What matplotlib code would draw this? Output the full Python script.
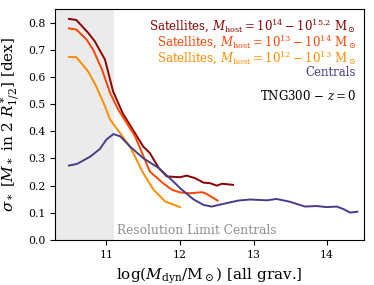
import matplotlib
matplotlib.use("Agg")
import matplotlib.pyplot as plt

plt.rcParams['font.family'] = 'DejaVu Serif'
plt.rcParams['mathtext.fontset'] = 'dejavuserif'

# Satellites, M_host = 10^14 - 10^15.2
x_sat14 = [10.49, 10.59, 10.75, 10.84, 10.98, 11.09, 11.22, 11.35, 11.50, 11.59, 11.71,
           11.82, 12.00, 12.09, 12.20, 12.32, 12.41, 12.50, 12.57, 12.72]
y_sat14 = [0.814, 0.810, 0.763, 0.732, 0.664, 0.547, 0.467, 0.410, 0.344, 0.320, 0.265,
           0.234, 0.231, 0.237, 0.228, 0.211, 0.209, 0.200, 0.207, 0.203]

# Satellites, M_host = 10^13 - 10^14
x_sat13 = [10.49, 10.59, 10.73, 10.82, 10.94, 11.05, 11.16, 11.39, 11.59, 11.77, 11.89,
           12.00, 12.14, 12.30, 12.36, 12.51]
y_sat13 = [0.779, 0.775, 0.738, 0.700, 0.627, 0.541, 0.480, 0.381, 0.252, 0.209, 0.185,
           0.175, 0.172, 0.176, 0.170, 0.145]

# Satellites, M_host = 10^12 - 10^13
x_sat12 = [10.49, 10.59, 10.75, 10.86, 10.98, 11.05, 11.32, 11.50, 11.64, 11.80, 12.00]
y_sat12 = [0.674, 0.673, 0.621, 0.566, 0.492, 0.443, 0.344, 0.246, 0.185, 0.141, 0.121]

# Centrals
x_cen = [10.49, 10.60, 10.78, 10.91, 11.00, 11.095, 11.19, 11.32, 11.50, 11.71, 11.91,
         12.00, 12.18, 12.32, 12.43, 12.59, 12.79, 12.95, 13.18, 13.31, 13.49, 13.70,
         13.86, 13.99, 14.13, 14.22, 14.31, 14.41]
y_cen = [0.274, 0.280, 0.307, 0.335, 0.370, 0.390, 0.381, 0.344, 0.301, 0.265, 0.215,
         0.191, 0.150, 0.129, 0.123, 0.133, 0.145, 0.149, 0.146, 0.151, 0.141, 0.123,
         0.125, 0.121, 0.123, 0.114, 0.101, 0.104]

res_limit = 11.1

fig = plt.figure(figsize=(3.74, 2.85), dpi=100)
ax = fig.add_axes([0.147, 0.158, 0.826, 0.810])

ax.axvspan(10.3, res_limit, color='#ebebeb', zorder=0, lw=0)
ax.text(res_limit + 0.05, 0.012, 'Resolution Limit Centrals', color='#909090',
        fontsize=8.8, ha='left', va='bottom')

lw = 1.4
ax.plot(x_sat14, y_sat14, color='#8b0000', lw=lw)
ax.plot(x_sat13, y_sat13, color='#ff4500', lw=lw)
ax.plot(x_sat12, y_sat12, color='#ff8c00', lw=lw)
ax.plot(x_cen, y_cen, color='#483d8b', lw=lw)

labels = [
    (r'Satellites, $M_{\rm host}=10^{14}-10^{15.2}\ {\rm M}_\odot$', '#8b0000', 0.965),
    (r'Satellites, $M_{\rm host}=10^{13}-10^{14}\ {\rm M}_\odot$', '#ff4500', 0.893),
    (r'Satellites, $M_{\rm host}=10^{12}-10^{13}\ {\rm M}_\odot$', '#ff8c00', 0.825),
    ('Centrals', '#483d8b', 0.755),
    (r'TNG300 $-\ z=0$', 'black', 0.655),
]
for txt, c, yy in labels:
    ax.text(0.975, yy, txt, color=c, fontsize=8.5, ha='right', va='top',
            transform=ax.transAxes)

ax.set_xlim(10.3, 14.5)
ax.set_ylim(0, 0.85)
ax.set_xticks([11, 12, 13, 14])
ax.set_yticks([0.0, 0.1, 0.2, 0.3, 0.4, 0.5, 0.6, 0.7, 0.8])
ax.tick_params(labelsize=7.8)
ax.set_xlabel(r'$\log(M_{\rm dyn}/{\rm M}_\odot)$ [all grav.]', fontsize=11)
ax.set_ylabel(r'$\sigma_*\ [M_*\ {\rm in}\ 2\ R^*_{1/2}]$ [dex]', fontsize=11)

fig.savefig('out.png', dpi=100)
